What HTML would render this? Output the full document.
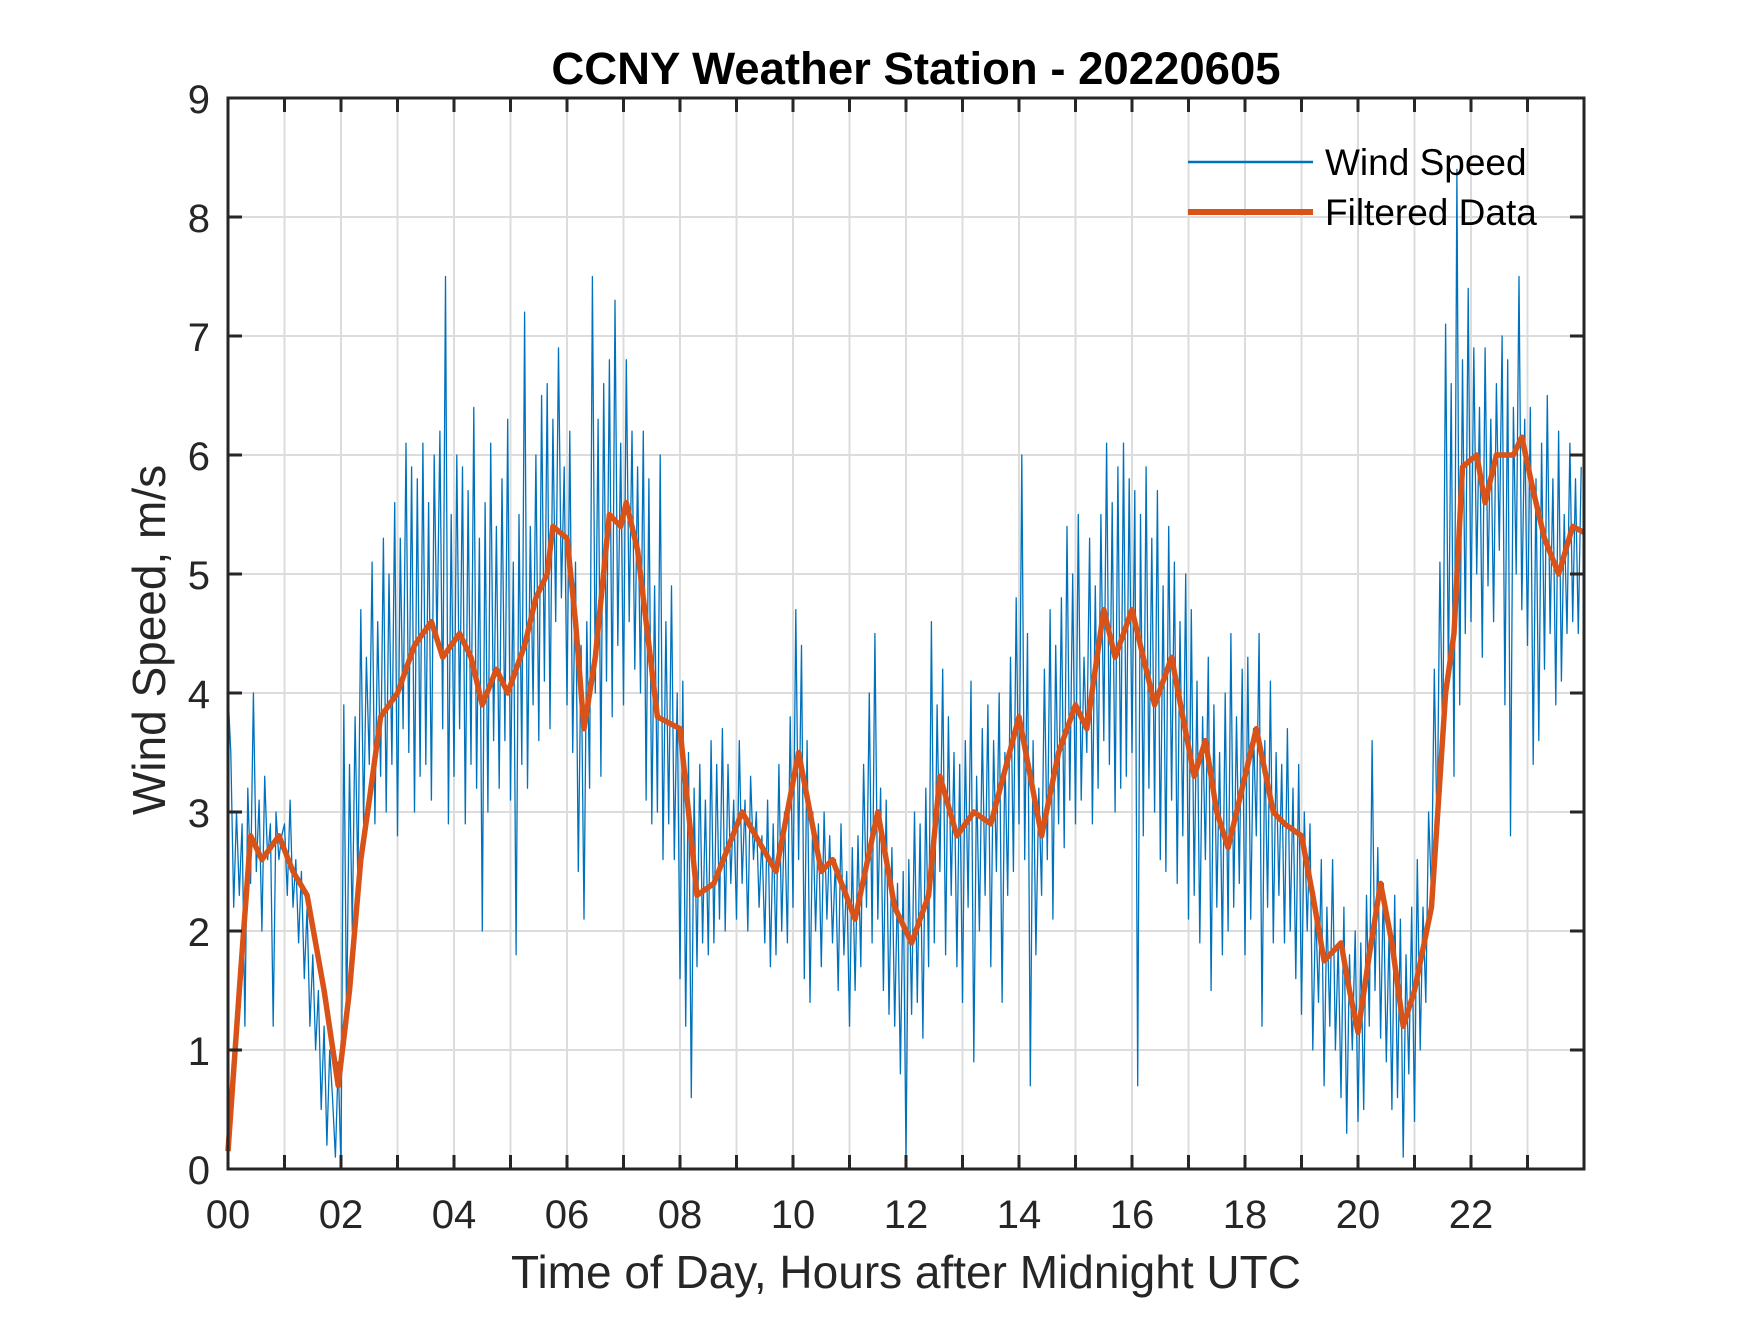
<!DOCTYPE html>
<html><head><meta charset="utf-8"><style>
html,body{margin:0;padding:0;background:#fff;}
svg text{font-family:"Liberation Sans",Arial,sans-serif;fill:#262626;}
</style></head><body>
<svg id="chart" width="1750" height="1313" viewBox="0 0 1750 1313" xmlns="http://www.w3.org/2000/svg">
<rect width="1750" height="1313" fill="#fff"/>
<g id="grid"></g>
<g id="series"></g>
<g id="axes"></g>
<text x="916" y="84" text-anchor="middle" font-size="45.5" font-weight="bold" style="fill:#000">CCNY Weather Station - 20220605</text>
<text x="906" y="1288" text-anchor="middle" font-size="46">Time of Day, Hours after Midnight UTC</text>
<text transform="translate(165,640) rotate(-90)" text-anchor="middle" font-size="46">Wind Speed, m/s</text>
<g>
<line x1="1188" y1="162" x2="1313" y2="162" stroke="#0072BD" stroke-width="2.5"/>
<text x="1325" y="175" font-size="37" style="fill:#000">Wind Speed</text>
<line x1="1188" y1="212" x2="1313" y2="212" stroke="#D95319" stroke-width="6"/>
<text x="1325" y="225" font-size="37" style="fill:#000">Filtered Data</text>
</g>
</svg>
<script>
const xTicks=[0,1,2,3,4,5,6,7,8,9,10,11,12,13,14,15,16,17,18,19,20,21,22,23];
const xTickLabels=["00","02","04","06","08","10","12","14","16","18","20","22"];
const yTicks=[0,1,2,3,4,5,6,7,8,9];
const rawSpeed=[
4.0,3.5,2.2,3.0,2.3,2.9,1.2,3.2,2.4,4.0,2.5,3.1,2.0,3.3,2.6,2.9,1.2,3.0,2.6,2.8,
2.9,2.3,3.1,2.2,2.6,1.9,2.5,1.6,2.2,1.2,1.8,1.0,1.5,0.5,1.2,0.2,1.0,0.6,0.1,0.9,
0.0,3.9,1.2,3.4,2.0,3.8,2.4,4.7,2.9,4.3,3.4,5.1,2.9,4.6,3.3,5.3,3.0,5.0,3.4,5.6,
2.8,5.3,3.7,6.1,3.5,5.9,3.0,5.8,3.3,6.1,3.4,5.6,3.1,6.0,4.4,6.2,3.7,7.5,2.9,5.5,
3.3,6.0,3.7,5.9,2.9,5.7,3.4,6.4,3.2,5.3,2.0,5.6,3.0,6.1,3.6,5.4,3.2,5.8,3.6,6.3,
3.1,5.1,1.8,5.5,3.4,7.2,3.2,5.4,3.9,6.0,3.6,6.5,4.1,6.6,3.7,6.3,4.6,6.9,4.8,5.9,
3.9,6.2,3.5,5.1,2.5,4.4,2.1,4.6,3.2,7.5,4.0,6.3,3.3,6.6,4.1,6.8,3.8,7.3,4.4,6.1,
3.9,6.8,4.6,6.2,4.2,5.9,4.0,6.2,3.1,5.8,2.9,4.9,3.0,6.0,2.6,4.6,2.9,4.9,2.6,4.0,
1.6,4.1,1.2,3.5,0.6,3.2,1.7,3.4,1.9,3.1,1.8,3.6,1.9,3.4,2.1,3.7,2.0,3.4,2.4,3.1,
2.1,3.6,2.4,3.1,2.0,3.3,2.6,3.0,2.2,2.8,1.9,3.1,1.7,2.9,1.8,3.4,2.0,3.0,1.9,3.8,
2.2,4.7,2.6,4.4,1.6,3.6,1.4,3.0,2.0,2.9,1.7,3.0,2.1,2.8,1.9,2.6,1.5,2.9,1.8,2.5,
1.2,2.7,1.5,2.8,1.7,3.4,2.2,4.0,1.9,4.5,2.1,3.2,1.5,3.1,1.3,2.7,1.2,2.4,0.8,2.5,
0.1,2.6,1.3,3.0,1.4,2.9,1.1,3.2,1.7,4.6,1.9,3.9,2.5,4.2,1.8,3.8,2.3,3.5,1.7,3.4,
1.4,3.6,2.2,4.1,0.9,3.3,2.0,3.7,2.3,3.9,1.7,3.6,2.5,4.0,1.4,3.5,2.3,4.3,2.5,4.8,
2.9,6.0,2.6,4.5,0.7,3.6,1.8,3.2,2.3,4.2,2.6,4.7,2.1,4.4,2.9,4.8,2.7,5.4,3.1,5.0,
2.9,5.5,3.1,4.3,3.5,5.3,2.9,4.9,3.2,5.5,3.6,6.1,3.4,5.6,3.0,5.9,3.2,6.1,3.3,5.8,
3.5,5.7,0.7,5.5,2.8,5.9,3.2,5.3,3.0,5.7,2.6,4.9,2.5,5.4,3.1,5.1,2.4,4.6,2.8,5.0,
2.1,4.7,2.3,4.1,1.9,3.8,2.6,4.3,1.5,3.9,2.2,3.5,1.8,4.0,2.0,4.5,2.2,3.8,2.4,4.2,
1.8,4.3,2.1,3.7,2.8,4.5,1.2,3.6,2.2,4.1,1.9,3.5,2.3,3.4,1.9,3.7,2.0,3.2,1.6,3.4,
1.3,3.0,2.0,2.9,1.0,2.2,1.4,2.6,0.7,2.2,1.2,2.6,1.0,1.9,0.6,2.2,0.3,1.8,1.0,2.0,
0.4,1.9,0.5,2.3,1.2,3.6,1.5,2.7,1.1,2.4,0.9,2.0,0.5,2.3,0.6,2.1,0.1,1.8,0.8,2.2,
0.4,2.6,1.0,2.2,1.4,3.0,2.3,4.2,2.8,5.1,3.5,7.1,4.1,6.6,3.3,8.4,3.9,6.8,4.5,7.4,
4.6,6.9,5.0,6.4,4.3,6.9,4.9,6.3,4.6,6.6,5.2,7.0,3.9,6.8,2.8,6.4,5.0,7.5,4.7,6.3,
4.4,6.4,3.4,5.8,3.6,6.1,4.2,6.5,4.5,5.8,3.9,6.2,4.1,5.5,4.5,6.1,4.6,5.8,4.5,5.9];
const filtHours=[0,0.2,0.4,0.6,0.9,1.15,1.4,1.7,1.95,2.15,2.35,2.5,2.7,3.0,3.3,3.6,3.8,4.1,4.3,4.5,4.75,4.95,5.25,5.45,5.65,5.75,6.0,6.15,6.3,6.5,6.75,6.95,7.05,7.25,7.6,8.0,8.3,8.6,9.1,9.7,10.1,10.5,10.7,11.1,11.5,11.8,12.1,12.4,12.6,12.9,13.2,13.5,14.0,14.4,14.7,15.0,15.2,15.5,15.7,16.0,16.2,16.4,16.7,16.9,17.1,17.3,17.5,17.7,18.0,18.2,18.5,18.7,19.0,19.2,19.4,19.7,19.85,20.0,20.2,20.4,20.6,20.8,21.0,21.3,21.55,21.7,21.85,22.1,22.25,22.45,22.75,22.9,23.1,23.3,23.55,23.8,24.0];
const filtSpeed=[0.15,1.5,2.8,2.6,2.8,2.5,2.3,1.5,0.7,1.5,2.6,3.1,3.8,4.0,4.4,4.6,4.3,4.5,4.3,3.9,4.2,4.0,4.4,4.8,5.0,5.4,5.3,4.6,3.7,4.3,5.5,5.4,5.6,5.2,3.8,3.7,2.3,2.4,3.0,2.5,3.5,2.5,2.6,2.1,3.0,2.2,1.9,2.3,3.3,2.8,3.0,2.9,3.8,2.8,3.5,3.9,3.7,4.7,4.3,4.7,4.3,3.9,4.3,3.8,3.3,3.6,3.0,2.7,3.3,3.7,3.0,2.9,2.8,2.3,1.75,1.9,1.5,1.15,1.8,2.4,1.9,1.2,1.5,2.2,4.0,4.5,5.9,6.0,5.6,6.0,6.0,6.15,5.7,5.3,5.0,5.4,5.35];

const X0=228,X1=1584,Y0=1169,Y1=98,XMAX=24,YMAX=9;
const sx=h=>X0+(X1-X0)*h/XMAX;
const sy=v=>Y0-(Y0-Y1)*v/YMAX;
const NS="http://www.w3.org/2000/svg";
function mk(tag,attrs,parent){const e=document.createElementNS(NS,tag);for(const k in attrs)e.setAttribute(k,attrs[k]);parent.appendChild(e);return e;}
const grid=document.getElementById('grid'),axes=document.getElementById('axes'),series=document.getElementById('series');
xTicks.forEach((h,i)=>{if(h>0){const l=mk('line',{x1:sx(h),x2:sx(h),y1:Y1,y2:Y0,stroke:'#dcdcdc','stroke-width':2},grid);

}});
yTicks.forEach(v=>{if(v>0&&v<YMAX){const l=mk('line',{x1:X0,x2:X1,y1:sy(v),y2:sy(v),stroke:'#dcdcdc','stroke-width':2},grid);

}});
let d='';rawSpeed.forEach((v,i)=>{const h=i*XMAX/rawSpeed.length;d+=(i?'L':'M')+sx(h).toFixed(1)+' '+sy(v).toFixed(1);});
const raw=mk('path',{d:d,fill:'none',stroke:'#0072BD','stroke-width':1.3,'stroke-linejoin':'round'},series);


let d2='';filtSpeed.forEach((v,i)=>{d2+=(i?'L':'M')+sx(filtHours[i]).toFixed(1)+' '+sy(v).toFixed(1);});
const filt=mk('path',{d:d2,fill:'none',stroke:'#D95319','stroke-width':5.5,'stroke-linejoin':'round'},series);


const box=mk('rect',{x:X0,y:Y1,width:X1-X0,height:Y0-Y1,fill:'none',stroke:'#262626','stroke-width':3},axes);


xTicks.forEach(h=>{
const t1=mk('line',{x1:sx(h),x2:sx(h),y1:Y0,y2:Y0-14,stroke:'#262626','stroke-width':3},axes);


const t2=mk('line',{x1:sx(h),x2:sx(h),y1:Y1,y2:Y1+14,stroke:'#262626','stroke-width':3},axes);

});
xTickLabels.forEach((s,i)=>{const t=mk('text',{x:sx(i*2),y:1228,'text-anchor':'middle','font-size':40},axes);t.textContent=s;

});
yTicks.forEach(v=>{
const t1=mk('line',{x1:X0,x2:X0+14,y1:sy(v),y2:sy(v),stroke:'#262626','stroke-width':3},axes);


const t2=mk('line',{x1:X1,x2:X1-14,y1:sy(v),y2:sy(v),stroke:'#262626','stroke-width':3},axes);


const t=mk('text',{x:210,y:sy(v)+15,'text-anchor':'end','font-size':40},axes);t.textContent=String(v);

});
</script>
</body></html>
